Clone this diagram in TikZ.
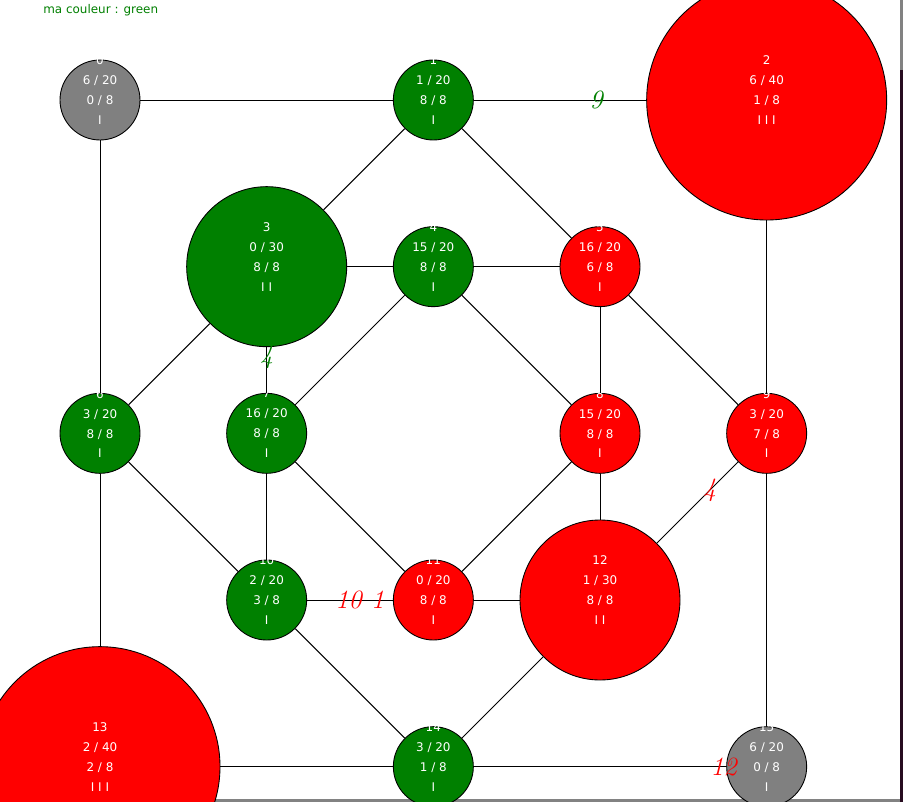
\documentclass[tikz,border=0pt]{standalone}
\usepackage{fontspec}
\setsansfont{DejaVu Sans}
\definecolor{mygreen}{RGB}{0,128,0}
\definecolor{mygray}{RGB}{128,128,128}
\definecolor{stripdark}{RGB}{40,12,32}
\definecolor{stripgray}{RGB}{130,130,130}

\begin{document}
\begin{tikzpicture}[x=3.3333cm, y=-3.3333cm,
  vertex/.style={circle, draw=black, line width=0.5pt, inner sep=0pt, minimum size=1.6cm},
  big/.style={minimum size=3.2cm}, huge/.style={minimum size=4.8cm},
  mine/.style={fill=mygreen}, theirs/.style={fill=red}, free/.style={fill=mygray},
  info/.style={anchor=north, yshift=8.88mm, align=center, text=white, inner sep=0pt,
    font=\sffamily\fontsize{6.8}{11.34}\selectfont},
  cost/.style={font=\itshape\fontsize{15}{15}\selectfont, inner sep=0pt},
  every edge/.append style={line width=0.55pt}]
  \fill[white] (-0.6,-0.6) rectangle (4.818,4.212);
  \useasboundingbox (-0.6,-0.6) rectangle (4.818,4.212);
  \fill[stripgray] (4.8,-0.6) rectangle (4.818,-0.18);
  \fill[stripdark] (4.8,-0.18) rectangle (4.818,4.212);
  \fill[stripgray] (-0.6,4.194) rectangle (4.8,4.212);

  \node[anchor=west, text=mygreen, inner sep=0pt, font=\sffamily\fontsize{6.8}{8}\selectfont] (title) at (-0.342,-0.54) {ma couleur : green};

  \node[vertex, free] (n0) at (0,0) {};
  \node[vertex, mine] (n1) at (2,0) {};
  \node[vertex, huge, theirs] (n2) at (4,0) {};
  \node[vertex, big, mine] (n3) at (1,1) {};
  \node[vertex, mine] (n4) at (2,1) {};
  \node[vertex, theirs] (n5) at (3,1) {};
  \node[vertex, mine] (n6) at (0,2) {};
  \node[vertex, mine] (n7) at (1,2) {};
  \node[vertex, theirs] (n8) at (3,2) {};
  \node[vertex, theirs] (n9) at (4,2) {};
  \node[vertex, mine] (n10) at (1,3) {};
  \node[vertex, theirs] (n11) at (2,3) {};
  \node[vertex, big, theirs] (n12) at (3,3) {};
  \node[vertex, huge, theirs] (n13) at (0,4) {};
  \node[vertex, mine] (n14) at (2,4) {};
  \node[vertex, free] (n15) at (4,4) {};

  \node[info] (i0) at (n0) {0\\6 / 20\\0 / 8\\I};
  \node[info] (i1) at (n1) {1\\1 / 20\\8 / 8\\I};
  \node[info] (i2) at (n2) {2\\6 / 40\\1 / 8\\I I I};
  \node[info] (i3) at (n3) {3\\0 / 30\\8 / 8\\I I};
  \node[info] (i4) at (n4) {4\\15 / 20\\8 / 8\\I};
  \node[info] (i5) at (n5) {5\\16 / 20\\6 / 8\\I};
  \node[info] (i6) at (n6) {6\\3 / 20\\8 / 8\\I};
  \node[info] (i7) at (n7) {7\\16 / 20\\8 / 8\\I};
  \node[info] (i8) at (n8) {8\\15 / 20\\8 / 8\\I};
  \node[info] (i9) at (n9) {9\\3 / 20\\7 / 8\\I};
  \node[info] (i10) at (n10) {10\\2 / 20\\3 / 8\\I};
  \node[info] (i11) at (n11) {11\\0 / 20\\8 / 8\\I};
  \node[info] (i12) at (n12) {12\\1 / 30\\8 / 8\\I I};
  \node[info] (i13) at (n13) {13\\2 / 40\\2 / 8\\I I I};
  \node[info] (i14) at (n14) {14\\3 / 20\\1 / 8\\I};
  \node[info] (i15) at (n15) {15\\6 / 20\\0 / 8\\I};

  % top row and outer frame
  \path (n0) edge (n1)
        (n1) edge node[cost, text=mygreen, pos=0.71] {9} (n2)
        (n0) edge (n6)
        (n6) edge (n13)
        (n2) edge (n9)
        (n9) edge (n15)
        (n13) edge (n14)
        (n14) edge node[cost, text=red, pos=0.99] {12} (n15);
  % inner links
  \path (n1) edge (n3)
        (n1) edge (n5)
        (n3) edge (n4)
        (n4) edge (n5)
        (n3) edge (n6)
        (n3) edge node[cost, text=mygreen, pos=0.22] {4} (n7)
        (n4) edge (n7)
        (n4) edge (n8)
        (n5) edge (n8)
        (n5) edge (n9)
        (n6) edge (n10)
        (n7) edge (n10)
        (n7) edge (n11)
        (n8) edge (n11)
        (n8) edge (n12)
        (n9) edge node[cost, text=red, pos=0.35] {4} (n12)
        (n10) edge node[cost, text=red, pos=0.615] {10 1} (n11)
        (n11) edge (n12)
        (n10) edge (n14)
        (n12) edge (n14);
\end{tikzpicture}
\end{document}
